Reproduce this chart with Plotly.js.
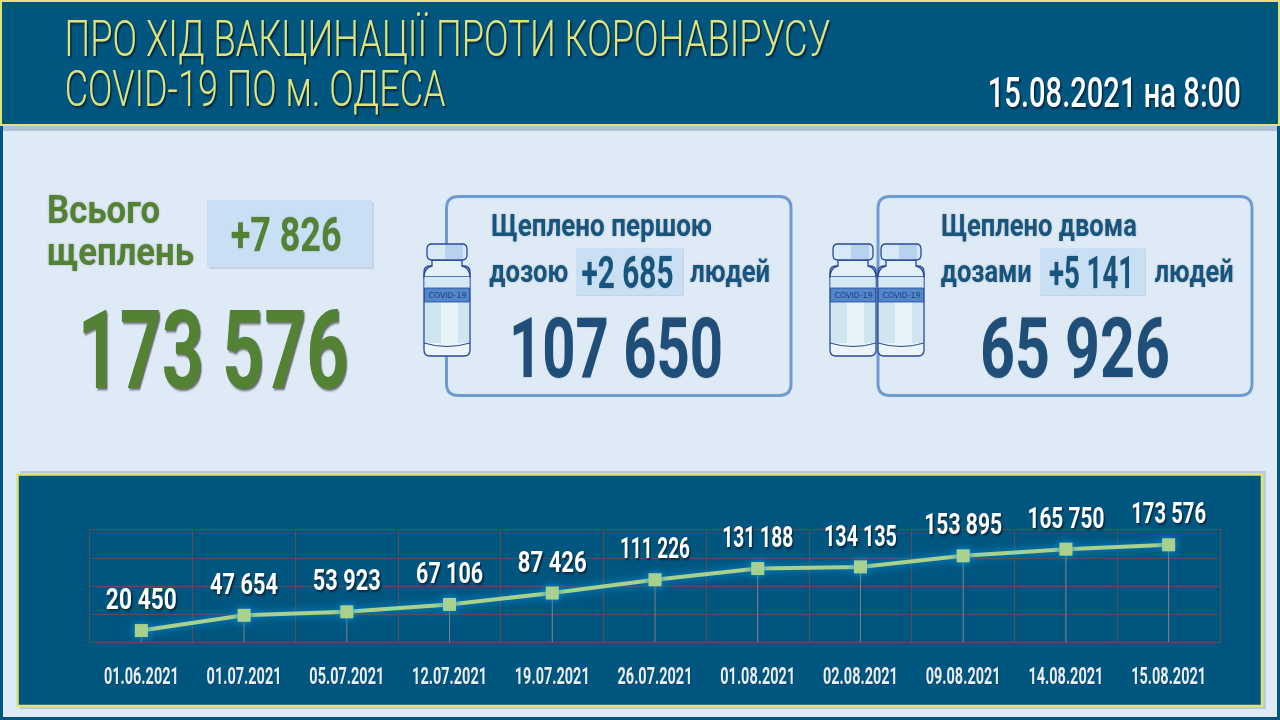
<!DOCTYPE html>
<html><head><meta charset="utf-8">
<script src="https://cdn.plot.ly/plotly-3.0.1.min.js"></script>
<style>
html,body{margin:0;padding:0;background:#00567f;overflow:hidden}
#c{width:1280px;height:720px}
.scatterlayer .trace:first-child .js-line,.scatterlayer .trace:first-child .point{filter:drop-shadow(0 0 4px #0a8fdc)}
.xtick text{filter:drop-shadow(1px 1px 0 rgba(0,30,60,.3))}
.scatterlayer text{filter:drop-shadow(2px 2px 1px rgba(0,25,50,.75))}
</style></head><body><div id="c"></div>
<script>
const dates=["01.06.2021","01.07.2021","05.07.2021","12.07.2021","19.07.2021","26.07.2021","01.08.2021","02.08.2021","09.08.2021","14.08.2021","15.08.2021"];
const totals=[20450,47654,53923,67106,87426,111226,131188,134135,153895,165750,173576];
const valueLabels=["20 450","47 654","53 923","67 106","87 426","111 226","131 188","134 135","153 895","165 750","173 576"];
const dropLengths=totals.slice();
const zeros=totals.map(()=>0);
const labelWidths=[71,68,68,67,69,70,71,73,78,77,75];

const L=90,R=1220,T=530,B=642;
const px=x=>(x-L)/(R-L), py=y=>(B-y)/(B-T);
const shapes=[], anns=[], fits=[];
function rect(x0,y0,x1,y1,fill,line,lw){shapes.push({type:'rect',xref:'paper',yref:'paper',x0:px(x0),x1:px(x1),y0:py(y0),y1:py(y1),fillcolor:fill,line:{color:line||'rgba(0,0,0,0)',width:lw||0},layer:'below'});}
function path(cmds,fill,line,lw){
  const d=cmds.map(c=>c.length===1?c[0]:c[0]+' '+c.slice(1).map((v,i)=>i%2===0?px(v):py(v)).join(' ')).join(' ');
  shapes.push({type:'path',xref:'paper',yref:'paper',path:d,fillcolor:fill,line:{color:line||'rgba(0,0,0,0)',width:lw||0},layer:'below'});
}
function rrect(x0,y0,x1,y1,r,fill,line,lw){
  path([['M',x0+r,y0],['L',x1-r,y0],['Q',x1,y0,x1,y0+r],['L',x1,y1-r],['Q',x1,y1,x1-r,y1],['L',x0+r,y1],['Q',x0,y1,x0,y1-r],['L',x0,y0+r],['Q',x0,y0,x0+r,y0],['Z']],fill,line,lw);
}
function text(s,x0,x1,yc,size,color,opt){
  opt=opt||{};
  anns.push({xref:'paper',yref:'paper',x:px((x0+x1)/2),y:py(yc),xanchor:'center',yanchor:'middle',showarrow:false,text:s,borderpad:0,
    font:{family:opt.family||'Roboto,sans-serif',size:size,color:color,weight:opt.weight||700}});
  fits.push({w:x1-x0,shadow:opt.shadow||'none'});
}
function vial(dx){
  const o='#27489a';
  rrect(424+dx,266,470+dx,356,6,'#eaf4f9',o,1.3);
  path([['M',432+dx,260],['L',462+dx,260],['L',462+dx,266],['Q',470+dx,268,470+dx,277],['L',424+dx,277],['Q',424+dx,268,432+dx,266],['Z']],'#e3f0f8',o,1.3);
  rect(425+dx,302,469+dx,343,'#cfe6f0');
  rect(441+dx,277,458+dx,343,'#e6f3f9');
  rect(424.5+dx,277,469.5+dx,288,'#d5e8f4');
  rect(424.5+dx,288,469.5+dx,302,'#5287c9',o,0.8);
  path([['M',424+dx,343],['Q',447+dx,350,470+dx,343]],'rgba(0,0,0,0)',o,1);
  rrect(427+dx,244,467+dx,260,5,'#d7e9f6',o,1.3);
  rect(445+dx,245,463+dx,259,'#b6d2ec');
  text('COVID-19',428+dx,466+dx,295,8,'#1d3f80',{family:'"DejaVu Sans",sans-serif',weight:400});
}
rect(3,126,1277,717,'#deeaf6');
rect(3,126,1277,131,'rgba(40,70,110,.25)');
rect(1,1,1279,125,'#00567f','#dfe37a',2);
rect(20,471,1266,709,'rgba(60,80,100,.2)');
rect(17.5,474.5,1262,706,'#00567f','#dfe37a',2.5);
rect(209,202,374,269,'rgba(70,90,120,.16)');
rect(207,200,372,267,'#c9dff3');
rrect(446.5,196.5,791,395.5,12,'rgba(0,0,0,0)','#6f9bd1',3);
rrect(878,196.5,1252,395.5,12,'rgba(0,0,0,0)','#6f9bd1',3);
rect(577,249,684,296,'rgba(70,90,120,.16)');
rect(576,248,683,295,'#c9dff3');
rect(1041,249,1146,296,'rgba(70,90,120,.16)');
rect(1040,248,1145,295,'#c9dff3');

const yel='#dfe37a',blue='#17557f',dark='#1f4e79',grn='#548235';
const hs='drop-shadow(2px 2px 1px rgba(0,25,50,.8))', ss='drop-shadow(0 0 1px rgba(80,80,80,.35))';
const thin={family:'Roboto,sans-serif',weight:300,shadow:hs};
text('ПРО ХІД ВАКЦИНАЦІЇ ПРОТИ КОРОНАВІРУСУ',64,830,39,50,yel,thin);
text('COVID-19 ПО м. ОДЕСА',64,445,89,50,yel,thin);
text('15.08.2021 на 8:00',988,1241,92,42,'#ffffff',{weight:500,shadow:hs});
text('Всього',47,160,210,39,grn,{shadow:ss});
text('щеплень',47,194,252,39,grn,{shadow:ss});
text('+7 826',230,341,234,48,grn,{shadow:ss});
text('173 576',77,348,350,110,grn,{shadow:'drop-shadow(2px 2px 1px rgba(40,40,40,.65))'});
text('Щеплено першою',491,712,225,31,blue,{shadow:ss});
text('дозою',489,568,271,31,blue,{shadow:ss});
text('+2 685',581,673,272,45,blue,{shadow:ss});
text('людей',690,770,271,31,blue,{shadow:ss});
text('107 650',509,723,348,84,dark,{shadow:ss});
text('Щеплено двома',941,1137,225,31,blue,{shadow:ss});
text('дозами',941,1032,271,31,blue,{shadow:ss});
text('+5 141',1049,1134,272,45,blue,{shadow:ss});
text('людей',1154,1233,271,31,blue,{shadow:ss});
text('65 926',980,1170,348,84,dark,{shadow:ss});
vial(0);vial(406);vial(454);

const line={x:dates,y:totals,type:'scatter',mode:'lines+markers',
  line:{color:'#a9d18e',width:4},marker:{symbol:'square',size:13,color:'#a9d18e'},
  error_y:{type:'data',symmetric:false,array:zeros,arrayminus:dropLengths,color:'#7d8486',thickness:1,width:0},
  hoverinfo:'x+y',showlegend:false};
const labels={x:dates,y:totals,type:'scatter',mode:'markers+text',text:valueLabels,textposition:'top center',
  marker:{size:21,color:'rgba(0,0,0,0)'},cliponaxis:false,
  textfont:{family:'Roboto,sans-serif',size:29,color:'#ffffff',weight:700},hoverinfo:'skip',showlegend:false};
const gridc='#57504e';
const layout={width:1280,height:720,margin:{l:L,r:1280-R,t:T,b:720-B,pad:0},
  paper_bgcolor:'#00567f',plot_bgcolor:'rgba(0,0,0,0)',showlegend:false,shapes:shapes,annotations:anns,
  xaxis:{type:'category',categoryorder:'array',categoryarray:dates,tickson:'boundaries',ticks:'',showgrid:true,gridcolor:gridc,gridwidth:1,layer:'below traces',
    showline:true,linecolor:gridc,linewidth:1,mirror:true,ticklabelstandoff:13,tickangle:0,automargin:false,
    tickfont:{family:'Roboto,sans-serif',size:23,color:'#e8eef3',weight:700},range:[-0.5,10.5]},
  yaxis:{range:[0,200000],dtick:50000,showgrid:true,gridcolor:gridc,gridwidth:1,zeroline:false,showticklabels:false,ticks:'',showline:true,linecolor:gridc,linewidth:1,mirror:true,layer:'below traces'}};
Plotly.newPlot('c',[line,labels],layout,{displayModeBar:false,staticPlot:true}).then(gd=>{
  const squeeze=(t,w)=>{
    const cx=parseFloat(t.getAttribute('x'))||0, s=w/t.getComputedTextLength(), prev=t.getAttribute('transform')||'';
    t.setAttribute('transform',prev+' translate('+cx+' 0) scale('+s+' 1) translate('+(-cx)+' 0)');
  };
  gd.querySelectorAll('.annotation-text').forEach((t,i)=>{
    const f=fits[i]; if(!f) return;
    squeeze(t,f.w);
    if(f.shadow!=='none') t.style.filter=f.shadow;
  });
  gd.querySelectorAll('.xtick text').forEach(t=>squeeze(t,75));
  gd.querySelectorAll('.scatterlayer .trace:last-child text').forEach((t,i)=>squeeze(t,labelWidths[i]));
});
</script></body></html>
